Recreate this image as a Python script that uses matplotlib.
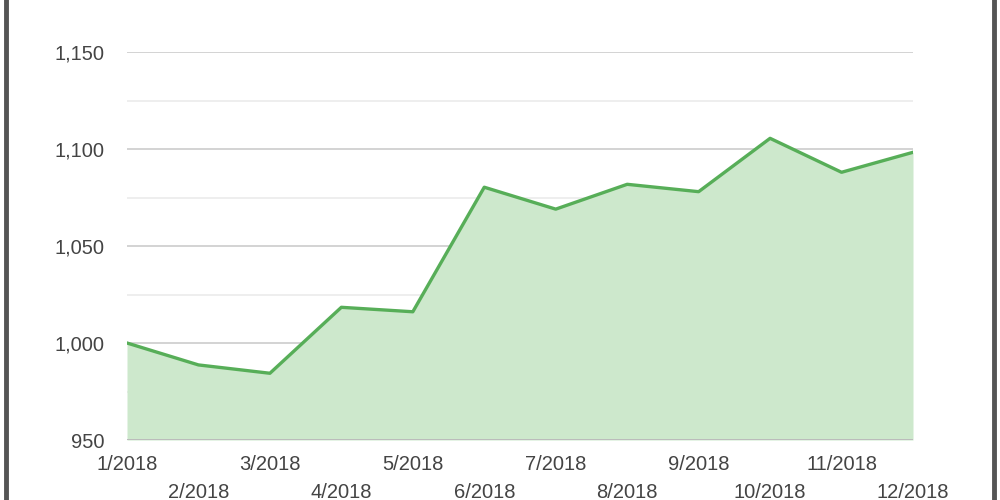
import matplotlib.pyplot as plt
from matplotlib.ticker import FuncFormatter, MultipleLocator

plt.rcParams['font.family'] = ['Liberation Sans', 'DejaVu Sans']

miesiace = ['1/2018', '2/2018', '3/2018', '4/2018', '5/2018', '6/2018',
            '7/2018', '8/2018', '9/2018', '10/2018', '11/2018', '12/2018']
wartosci = [1000, 988.7, 984.4, 1018.4, 1016.1, 1080.3,
            1069, 1081.8, 1078, 1105.5, 1088, 1098.3]

fig = plt.figure(figsize=(10, 5), dpi=100)
ax = fig.add_axes([0.127, 0.12, 0.786, 0.776])

x = list(range(len(miesiace)))
ax.fill_between(x, wartosci, 950, color='#cde8cc', linewidth=0, zorder=2)
ax.plot(x, wartosci, color='#57ae58', linewidth=2.4, zorder=3)

ax.set_xlim(0, len(miesiace) - 1)
ax.set_ylim(950, 1150)

# siatka
ax.yaxis.set_major_locator(MultipleLocator(50))
ax.yaxis.set_minor_locator(MultipleLocator(25))
ax.grid(axis='y', which='major', color='#cccccc', linewidth=1.2, zorder=1)
ax.grid(axis='y', which='minor', color='#ebebeb', linewidth=1.2, zorder=1)
ax.axhline(950, color='#bbbbbb', linewidth=1.4, zorder=4)

ax.yaxis.set_major_formatter(FuncFormatter(lambda v, p: f'{int(v):,}'))
ax.tick_params(axis='y', which='both', length=0, pad=16, labelsize=14.5, labelcolor='#444444')

etykiety = [m if i % 2 == 0 else '\n' + m for i, m in enumerate(miesiace)]
ax.set_xticks(x)
ax.set_xticklabels(etykiety, linespacing=1.55)
ax.tick_params(axis='x', length=0, pad=11, labelsize=14.5, labelcolor='#444444')

for s in ax.spines.values():
    s.set_visible(False)

# ramka obrazka
fig.add_artist(plt.Line2D([0.006, 0.006], [0, 1], color='#555555', linewidth=3.5))
fig.add_artist(plt.Line2D([0.994, 0.994], [0, 1], color='#555555', linewidth=3.5))

fig.savefig('out.png', dpi=100, facecolor='white')
